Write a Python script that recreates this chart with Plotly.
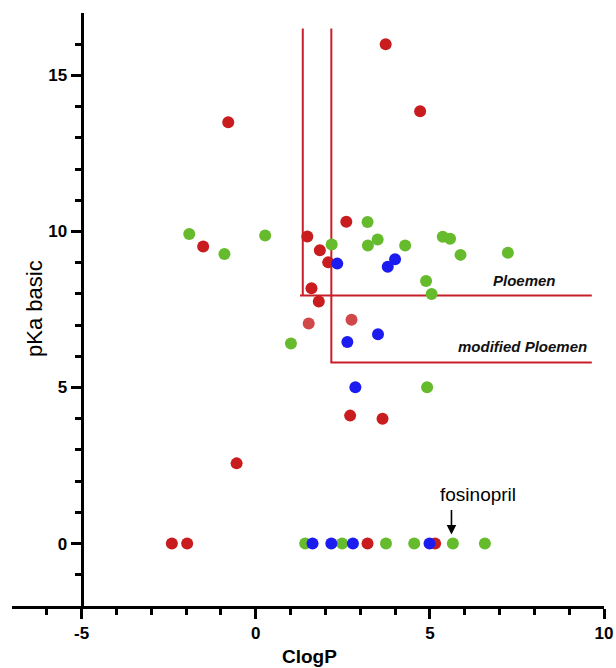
import plotly.graph_objects as go

# ---- data (ClogP, pKa basic) ----
red_clogp = [3.73, 4.72, -0.79, 2.60, 1.48, 1.84, 2.08, 1.60, 1.81, -1.51, 2.71, 3.64, -0.55, -2.41, -1.97, 3.21, 5.15]
red_pka = [16.0, 13.85, 13.5, 10.31, 9.84, 9.40, 9.01, 8.18, 7.76, 9.52, 4.10, 4.00, 2.57, 0, 0, 0, 0]

lightred_clogp = [1.52, 2.75]
lightred_pka = [7.05, 7.17]

green_clogp = [3.21, 2.18, 3.22, 3.50, 4.29, 5.37, 5.58, 5.88, 7.24, 4.89, 5.05, 1.01, 4.92,
               -1.91, -0.90, 0.27, 1.42, 2.48, 3.74, 4.55, 5.66, 6.58]
green_pka = [10.30, 9.58, 9.55, 9.74, 9.55, 9.83, 9.77, 9.25, 9.32, 8.41, 8.00, 6.41, 5.01,
             9.92, 9.28, 9.87, 0, 0, 0, 0, 0, 0]

blue_clogp = [2.34, 3.79, 4.00, 2.63, 3.51, 2.86, 1.63, 2.17, 2.79, 4.99]
blue_pka = [8.97, 8.87, 9.11, 6.46, 6.71, 5.01, 0, 0, 0, 0]

# criteria thresholds
ploemen_clogp, ploemen_pka = 1.35, 7.95
mod_clogp, mod_pka = 2.17, 5.8
criteria_top, criteria_right = 16.5, 9.65

x_tickvals = [-5, 0, 5, 10]
x_ticktext = ["-5", "0", "5", "10"]
x_minor = [-6, -4, -3, -2, -1, 1, 2, 3, 4, 6, 7, 8, 9]
y_tickvals = [0, 5, 10, 15]
y_ticktext = ["0", "5", "10", "15"]
y_minor = [-1, 1, 2, 3, 4, 6, 7, 8, 9, 11, 12, 13, 14, 16]

fosinopril_clogp, fosinopril_pka = 5.62, 0

RED = "#c81c1f"
LRED = "#d04848"
GREEN = "#66bb2c"
BLUE = "#1c1cf0"
LINE_RED = "#c8202a"

fig = go.Figure()

# criteria lines
fig.add_trace(go.Scatter(
    x=[ploemen_clogp, ploemen_clogp, None, ploemen_clogp - 0.08, criteria_right],
    y=[criteria_top, ploemen_pka, None, ploemen_pka, ploemen_pka],
    mode="lines", line=dict(color=LINE_RED, width=2), name="Ploemen", hoverinfo="skip"))
fig.add_trace(go.Scatter(
    x=[mod_clogp, mod_clogp, criteria_right],
    y=[criteria_top, mod_pka, mod_pka],
    mode="lines", line=dict(color=LINE_RED, width=2), name="modified Ploemen", hoverinfo="skip"))

for xs, ys, c, nm in [(red_clogp, red_pka, RED, "red"),
                      (lightred_clogp, lightred_pka, LRED, "light red"),
                      (green_clogp, green_pka, GREEN, "green"),
                      (blue_clogp, blue_pka, BLUE, "blue")]:
    fig.add_trace(go.Scatter(x=xs, y=ys, mode="markers", name=nm,
                             marker=dict(color=c, size=12, line=dict(width=0))))

tickfont = dict(family="Liberation Sans, Arial", size=17, color="black", weight="bold")
fig.update_layout(
    width=616, height=668,
    margin=dict(l=12, r=12, t=13, b=62, autoexpand=False),
    paper_bgcolor="white", plot_bgcolor="white",
    showlegend=False,
    font=dict(family="Liberation Sans, Arial", color="black"),
    xaxis=dict(range=[-7, 10], domain=[0, 1], showgrid=False, zeroline=False, automargin=False,
               showline=True, linecolor="black", linewidth=3,
               ticks="outside", ticklen=10, tickwidth=3, tickcolor="black",
               tickmode="array", tickvals=x_tickvals, ticktext=x_ticktext,
               tickfont=tickfont,
               minor=dict(tickmode="array", tickvals=x_minor, ticks="outside",
                          ticklen=6, tickwidth=3, tickcolor="black")),
    yaxis=dict(range=[-2, 17], anchor="free", position=2 / 17, showgrid=False, zeroline=False,
               automargin=False,
               showline=True, linecolor="black", linewidth=3,
               ticks="outside", ticklen=10, tickwidth=3, tickcolor="black",
               tickmode="array", tickvals=y_tickvals, ticktext=y_ticktext,
               tickfont=tickfont,
               minor=dict(tickmode="array", tickvals=y_minor, ticks="outside",
                          ticklen=6, tickwidth=3, tickcolor="black")),
)

fig.add_annotation(text="pKa basic", xref="paper", yref="paper", x=0.037, y=0.5025,
                   textangle=-90, showarrow=False, xanchor="center", yanchor="middle",
                   font=dict(family="Liberation Sans, Arial", size=22, color="black"))
fig.add_annotation(text="<b>ClogP</b>", xref="paper", yref="paper", x=0.502, y=-0.085,
                   showarrow=False, xanchor="center", yanchor="middle",
                   font=dict(family="Liberation Sans, Arial", size=19, color="black"))
fig.add_annotation(text="<b><i>Ploemen</i></b>", x=8.68, y=8.44, xref="x", yref="y",
                   showarrow=False, xanchor="right", yanchor="middle",
                   font=dict(family="Liberation Sans, Arial", size=15, color="#111111"))
fig.add_annotation(text="<b><i>modified Ploemen</i></b>", x=9.58, y=6.32, xref="x", yref="y",
                   showarrow=False, xanchor="right", yanchor="middle",
                   font=dict(family="Liberation Sans, Arial", size=15, color="#111111"))
fig.add_annotation(text="fosinopril", x=6.38, y=1.57, xref="x", yref="y",
                   showarrow=False, xanchor="center", yanchor="middle",
                   font=dict(family="Liberation Sans, Arial", size=19, color="black"))
fig.add_annotation(text="", x=fosinopril_clogp, y=fosinopril_pka + 0.29,
                   ax=fosinopril_clogp, ay=fosinopril_pka + 1.12, axref="x", ayref="y",
                   xref="x", yref="y", showarrow=True, arrowhead=2, arrowsize=1.2,
                   arrowwidth=1.6, arrowcolor="black")

fig.write_html("out.html", config={"displayModeBar": False},
               post_script="document.body.style.margin='0';document.body.style.overflow='hidden';")
